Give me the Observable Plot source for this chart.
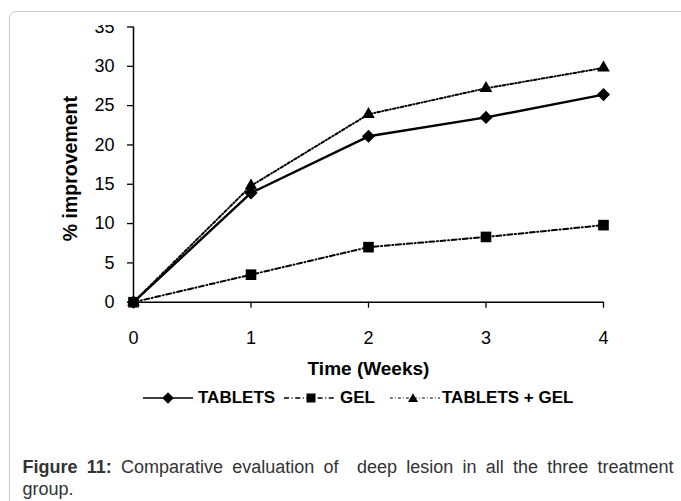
<!DOCTYPE html>
<html><head><meta charset="utf-8">
<script src="https://cdn.jsdelivr.net/npm/d3@7"></script>
<script src="https://cdn.jsdelivr.net/npm/@observablehq/plot@0.6"></script>
<style>
body{margin:0;background:#fff;width:681px;height:501px;overflow:hidden;position:relative;font-family:"Liberation Sans",Arial,sans-serif;}
#frame{position:absolute;left:9px;top:11px;width:720px;height:560px;border:1.5px solid #c9c9c9;border-radius:7px;box-sizing:border-box;}
#clip{position:absolute;left:0;top:25px;width:681px;height:360px;overflow:hidden;}
#chart{position:absolute;left:0;top:-25px;}
.leg{position:absolute;top:388px;height:20px;line-height:20px;font-size:17px;font-weight:bold;color:#000;white-space:nowrap;}
.sw{position:absolute;top:389px;}
#cap{position:absolute;left:22.5px;top:456px;width:651px;font-size:18px;line-height:22px;color:#333;}
#cap .l1{text-align:justify;text-align-last:justify;white-space:nowrap;}
</style></head>
<body>
<div id="frame"></div>
<div id="clip"><div id="chart"></div></div>
<div id="legend"></div>
<div id="cap"><div class="l1"><b>Figure 11:</b> Comparative evaluation of &nbsp;deep lesion in all the three treatment</div><div>group.</div></div>
<script>
const weeks = [0, 1, 2, 3, 4];
const tablets = [0, 13.9, 21.1, 23.5, 26.4];
const gel = [0, 3.5, 7.0, 8.3, 9.8];
const tabletsGel = [0, 14.8, 23.9, 27.2, 29.8];
const yTicks = [0, 5, 10, 15, 20, 25, 30, 35];
const xTicks = [0, 1, 2, 3, 4];
const seriesNames = ["TABLETS", "GEL", "TABLETS + GEL"];
const xLabel = "Time (Weeks)";
const yLabel = "% improvement";

const rows = (vals, name) => weeks.map((w, i) => ({week: w, value: vals[i], series: name}));
const dTab = rows(tablets, seriesNames[0]);
const dGel = rows(gel, seriesNames[1]);
const dTG = rows(tabletsGel, seriesNames[2]);

const dashGel = "5,2.6,1,2.6";
const dashTG = "2.8,2.2,0.8,2.2";

const chart = Plot.plot({
  width: 681, height: 380,
  marginLeft: 133, marginRight: 78, marginTop: 26.5, marginBottom: 78.3,
  x: {domain: [0, 4]},
  y: {domain: [0, 35]},
  style: {fontFamily: "'Liberation Sans', Arial, sans-serif", fontSize: "18px", color: "#000", background: "transparent", overflow: "visible"},
  marks: [
    Plot.axisY({ticks: yTicks, tickSize: 6, tickPadding: 13, label: null, strokeWidth: 1.3}),
    Plot.axisX({ticks: xTicks, tickSize: 6, tickPadding: 23, label: null, strokeWidth: 1.3, tickFormat: d => String(d)}),
    Plot.ruleX([0], {stroke: "#000", strokeWidth: 1.5}),
    Plot.ruleY([0], {stroke: "#000", strokeWidth: 1.5}),
    Plot.line(dGel, {x: "week", y: "value", stroke: "#000", strokeWidth: 2, strokeDasharray: dashGel}),
    Plot.line(dTG, {x: "week", y: "value", stroke: "#000", strokeWidth: 2, strokeDasharray: dashTG}),
    Plot.line(dTab, {x: "week", y: "value", stroke: "#000", strokeWidth: 2.4}),
    Plot.dot(dGel, {x: "week", y: "value", symbol: "square", r: 6.0, fill: "#000", stroke: "none"}),
    Plot.dot(dTG, {x: "week", y: "value", symbol: "triangle", r: 4.7, fill: "#000", stroke: "none"}),
    Plot.dot(dTab, {x: "week", y: "value", symbol: "diamond2", r: 5.9, fill: "#000", stroke: "none"}),
    Plot.text([xLabel], {text: d => d, frameAnchor: "bottom", lineAnchor: "middle", textAnchor: "middle", dy: 66.5, fontWeight: "bold", fontSize: 19, fill: "#000"}),
    Plot.text([yLabel], {text: d => d, frameAnchor: "left", textAnchor: "middle", lineAnchor: "middle", rotate: -90, dx: -63, dy: 4, fontWeight: "bold", fontSize: 19.5, fill: "#000"})
  ]
});
document.getElementById("chart").appendChild(chart);

// legend
const leg = document.getElementById("legend");
const swatches = [
  {left: 143, w: 50, cx: 25, dash: null, sw: 1.6, shape: "diamond", textLeft: 198},
  {left: 284, w: 52, cx: 27, dash: dashGel, sw: 1.3, shape: "square", textLeft: 340},
  {left: 390, w: 50, cx: 23, dash: dashTG, sw: 1.2, shape: "triangle", textLeft: 442}
];
swatches.forEach((s, i) => {
  const ns = "http://www.w3.org/2000/svg";
  const svg = document.createElementNS(ns, "svg");
  svg.setAttribute("width", s.w); svg.setAttribute("height", 18);
  svg.setAttribute("class", "sw"); svg.style.left = s.left + "px";
  const ln = document.createElementNS(ns, "line");
  ln.setAttribute("x1", 0); ln.setAttribute("x2", s.w); ln.setAttribute("y1", 9); ln.setAttribute("y2", 9);
  ln.setAttribute("stroke", "#000"); ln.setAttribute("stroke-width", s.sw);
  if (s.dash) ln.setAttribute("stroke-dasharray", s.dash);
  svg.appendChild(ln);
  const p = document.createElementNS(ns, "path");
  const c = s.cx;
  let d;
  if (s.shape === "diamond") d = `M${c},3.2L${c+5.8},9L${c},14.8L${c-5.8},9Z`;
  else if (s.shape === "square") d = `M${c-4.5},4.5H${c+4.5}V13.5H${c-4.5}Z`;
  else d = `M${c},4.2L${c+5},13L${c-5},13Z`;
  p.setAttribute("d", d); p.setAttribute("fill", "#000");
  svg.appendChild(p);
  leg.appendChild(svg);
  const t = document.createElement("div");
  t.className = "leg"; t.style.left = s.textLeft + "px"; t.textContent = seriesNames[i];
  leg.appendChild(t);
});
</script>
</body></html>
